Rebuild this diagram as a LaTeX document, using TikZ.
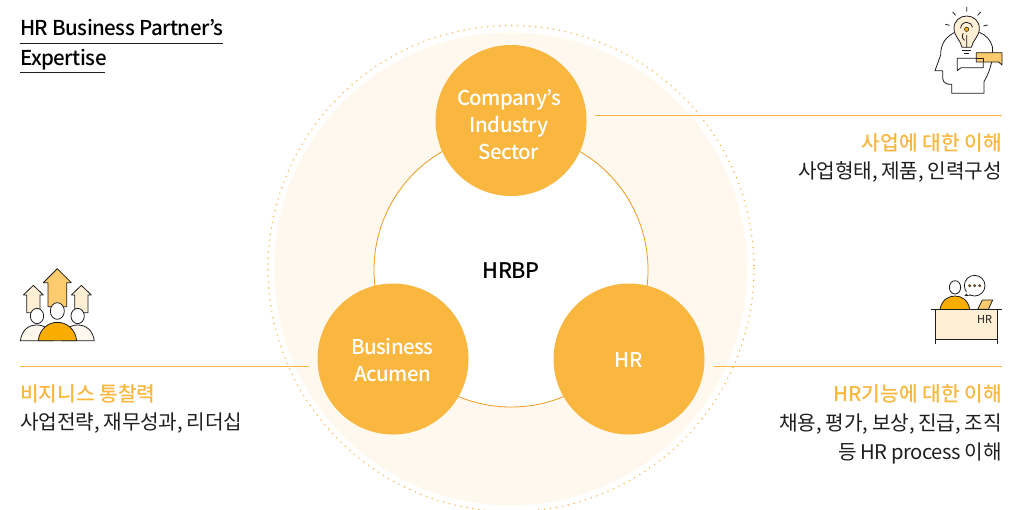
\documentclass[tikz,border=0pt]{standalone}
\usepackage{fontspec}
\setmainfont{Noto Sans CJK KR}
\newfontfamily\medfont[LetterSpace=-2.5]{Noto Sans CJK KR Medium}
\newfontfamily\medkr{Noto Sans CJK KR Medium}
\newfontfamily\bodykr[LetterSpace=-.5,WordSpace=.85]{Noto Sans CJK KR}
\newfontfamily\bodytight[LetterSpace=-2.5]{Noto Sans CJK KR}
\definecolor{hrorange}{HTML}{F9B73F}
\definecolor{hrpale}{HTML}{FFF8EE}
\definecolor{hrcream}{HTML}{FFEFD5}
\definecolor{hrgold}{HTML}{FBCB6E}
\definecolor{hrdeep}{HTML}{F9AD00}
\definecolor{hrring}{HTML}{EE9A20}
\definecolor{hrink}{HTML}{1E1E1E}
\tikzset{
  topic/.style={circle,fill=hrorange,minimum size=151pt,inner sep=0pt},
  topictext/.style={text=white,align=center,inner sep=0pt,font=\medfont\fontsize{20.4}{27}\selectfont},
  rulerline/.style={draw=hrorange,line width=.8pt},
  headline/.style={anchor=base east,text=hrorange,inner sep=0pt,font=\medkr\fontsize{20.3}{24}\selectfont},
  bodyline/.style={anchor=base east,text=hrink,inner sep=0pt,font=\bodykr\fontsize{20.2}{24}\selectfont},
  titleline/.style={anchor=base west,inner sep=0pt,text=black,font=\medfont\fontsize{20.5}{24}\selectfont},
  iconline/.style={draw=hrink,line width=.8pt,line join=round},
}
\begin{document}
\begin{tikzpicture}[x=1pt,y=-1pt]
\useasboundingbox (0,0) rectangle (1032,509);
% background discs
\begin{scope}
\clip (0,0) rectangle (1032,509);
\fill[hrpale] (510.5,269) circle (236.5);
\draw[hrorange,line width=1.6pt,line cap=round,dash pattern=on 0pt off 6pt] (511,268.5) circle (243);
\end{scope}
\draw[hrring,fill=white,line width=.8pt] (511,270) circle (137);
\node[text=black,inner sep=0pt,font=\medfont\fontsize{21.5}{27}\selectfont] (hrbp) at (511,271) {HRBP};
\node[topic] (sector) at (511,120.5) {};
\node[topic] (acumen) at (393,359) {};
\node[topic] (hr) at (629,359) {};
\node[topictext] (sectortext) at (509,125) {Company’s\\Industry\\Sector};
\node[topictext] (acumentext) at (392.5,360) {Business\\Acumen};
\node[topictext] (hrtext) at (628.5,360) {HR};
% rules
\coordinate (sectorend) at (1002,115.5);
\coordinate (sectorstart) at (595,115.5);
\coordinate (acumenend) at (20,366);
\coordinate (acumenstart) at (309,366);
\coordinate (hrstart) at (714,366);
\coordinate (hrend) at (1002,366);
\draw[rulerline] (sectorstart) -- (sectorend);
\draw[rulerline] (acumenend) -- (acumenstart);
\draw[rulerline] (hrstart) -- (hrend);
% title
\node[titleline] (title1) at (20,35) {HR Business Partner’s};
\node[titleline] (title2) at (20,65) {Expertise};
\draw[hrink,line width=.9pt] (20,43) -- (223,43);
\draw[hrink,line width=.9pt] (20,72) -- (105,72);
% texts
\node[headline] (sectorhead) at (1002,150) {사업에 대한 이해};
\node[bodyline] (sectorbody) at (1002,178.5) {사업형태, 제품, 인력구성};
\node[headline,anchor=base west] (acumenhead) at (20,401) {비지니스 통찰력};
\node[bodyline,anchor=base west] (acumenbody) at (20,429.5) {사업전략, 재무성과, 리더십};
\node[headline] (hrhead) at (1002,401) {HR기능에 대한 이해};
\node[bodyline] (hrbody1) at (1002,430) {채용, 평가, 보상, 진급, 조직};
\node[bodyline] (hrbody2) at (1002,459) {등 {\bodytight HR process} 이해};
% bulb icon
\begin{scope}[shift={(900,0)},scale=1/3]
\draw[iconline,fill=white] (162,98) .. controls (130,115) and (122,140) .. (122,165) -- (105,212) -- (128,212) -- (128,235) .. controls (130,250) and (140,253) .. (155,253) -- (155,280) -- (252,280) -- (252,245) .. controls (275,205) and (280,170) .. (277,140) .. controls (272,120) and (258,105) .. (238,97);
\draw[iconline,fill=hrcream] (186,142) .. controls (182,120) and (162,110) .. (162,85) .. controls (162,62) and (180,48) .. (200,48) .. controls (220,48) and (238,62) .. (238,85) .. controls (238,110) and (218,120) .. (214,142) -- cycle;
\draw[iconline] (200,142) -- (200,105) (182,85) arc (180:350:18) (190,100) arc (220:120:14);
\fill[hrdeep,draw=hrink,line width=.5pt] (200,88) circle (6.5);
\draw[iconline] (187,150) -- (213,150) (192,161) -- (208,161);
\draw[iconline] (200,21) -- (200,35) (158,36) -- (167,46) (242,36) -- (233,46) (136,73) -- (149,76) (263,75) -- (250,78);
\draw[iconline,fill=white] (172,175) -- (250,175) -- (250,203) -- (183,203) -- (172,212) -- cycle;
\draw[iconline,fill=hrgold] (229,158) -- (306,158) -- (306,195) -- (296,186) -- (229,186) -- cycle;
\draw[iconline] (229,175) -- (250,175) -- (250,186);
\end{scope}
% desk icon
\begin{scope}[shift={(900,265)},scale=1/3]
\draw[iconline,fill=white] (165,67) ellipse (17 and 20);
\draw[iconline,fill=hrdeep] (120,133) .. controls (125,105) and (145,93) .. (165,93) .. controls (185,93) and (205,105) .. (209,133);
\draw[iconline,fill=white] (224,62) circle (31);
\draw[iconline,fill=white] (203,85) -- (195,92) -- (212,90);
\fill[white] (205,82) circle (6);
\foreach \dotx in {209,224,239} \fill[hrink!70!hrorange] (\dotx,62) circle (5);
\draw[iconline,fill=hrgold] (233,133) -- (247,105) -- (278,105) -- (265,133) -- cycle;
\fill[hrcream] (107,133) rectangle (293,223);
\draw[iconline] (94,133) -- (307,133) (107,133) -- (107,237) (293,133) -- (293,237) (107,223) -- (293,223);
\node[text=hrink,font=\fontsize{11}{12}\selectfont,inner sep=0pt] (desktext) at (254,163) {HR};
\end{scope}
% arrows icon
\begin{scope}[shift={(0,255)},scale=1/3]
\draw[iconline,fill=hrcream] (80,173) -- (80,120) -- (70,120) -- (100,91) -- (130,120) -- (120,120) -- (120,173) -- cycle;
\draw[iconline,fill=hrcream] (224,173) -- (224,120) -- (214,120) -- (244,91) -- (274,120) -- (264,120) -- (264,173) -- cycle;
\draw[iconline,fill=hrgold] (144,155) -- (144,83) -- (130,83) -- (172,41) -- (214,83) -- (200,83) -- (200,155) -- cycle;
\draw[iconline,fill=hrpale] (61,257) .. controls (66,225) and (85,210) .. (110,210) .. controls (135,210) and (155,225) .. (160,257) -- cycle;
\draw[iconline,fill=hrpale] (185,257) .. controls (190,225) and (210,210) .. (233,210) .. controls (258,210) and (278,225) .. (283,257) -- cycle;
\draw[iconline,fill=white] (111,183) ellipse (20 and 23);
\draw[iconline,fill=white] (233,183) ellipse (20 and 23);
\draw[iconline,fill=white] (172,168) ellipse (21 and 25);
\draw[iconline,fill=hrdeep] (115,257) .. controls (118,222) and (145,202) .. (172,202) .. controls (200,202) and (226,222) .. (230,257) -- cycle;
\end{scope}
\end{tikzpicture}
\end{document}
